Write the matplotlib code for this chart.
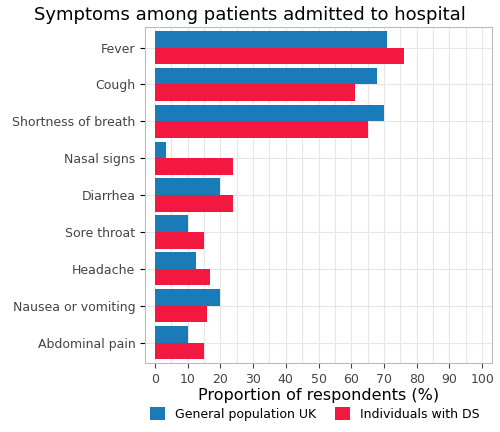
import matplotlib.pyplot as plt
import numpy as np

symptoms = ['Fever', 'Cough', 'Shortness of breath', 'Nasal signs', 'Diarrhea',
            'Sore throat', 'Headache', 'Nausea or vomiting', 'Abdominal pain']
uk = [71, 68, 70, 3.5, 20, 10, 12.5, 20, 10]
ds = [76, 61, 65, 24, 24, 15, 17, 16, 15]

fig = plt.figure(figsize=(5.0, 4.32), dpi=100)
ax = fig.add_axes([0.29, 0.16, 0.694, 0.777])

y = np.arange(len(symptoms))
h = 0.45
ax.barh(y - h/2, uk, h, color='#1b7bb8', label='General population UK', zorder=3)
ax.barh(y + h/2, ds, h, color='#f2183f', label='Individuals with DS', zorder=3)

ax.set_yticks(y)
ax.set_yticklabels(symptoms, fontsize=9, color='#444444')
ax.invert_yaxis()
ax.set_ylim(len(symptoms) - 0.45, -0.55)
ax.set_xlim(-3, 103)
ax.set_xticks(range(0, 101, 10))
ax.set_xticks(range(5, 101, 10), minor=True)
ax.tick_params(axis='x', labelsize=9, colors='#444444', which='both')
ax.tick_params(axis='x', which='minor', length=0)
ax.grid(True, which='both', color='#e6e6e6', lw=0.8, zorder=0)
for s in ax.spines.values():
    s.set_color('#bbbbbb')
ax.set_xlabel('Proportion of respondents (%)', fontsize=11.5, labelpad=2)
fig.text(0.5, 0.985, 'Symptoms among patients admitted to hospital',
         ha='center', va='top', fontsize=13)
fig.legend(loc='lower center', bbox_to_anchor=(0.63, 0.0), ncol=2, frameon=False,
           fontsize=9, handlelength=1.2, handleheight=1.2, columnspacing=1.5)

plt.savefig('out.png', dpi=100)
